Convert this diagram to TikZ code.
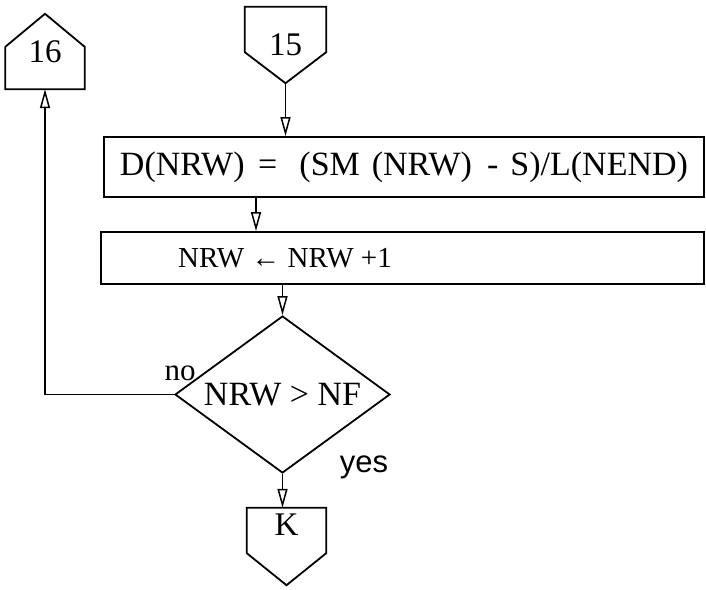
\documentclass[tikz,border=0pt]{standalone}
\usepackage{fontspec}
\setmainfont{Liberation Serif}
\newfontfamily\yesfont{Liberation Sans}
\usetikzlibrary{arrows.meta,calc,positioning,shapes.geometric}

\begin{document}
\begin{tikzpicture}[x=1pt,y=-1pt,>={Triangle[open,length=19pt,width=10pt,line width=1.5pt]},line join=miter]
\path[fill=white] (0,0) rectangle (706,589);
\tikzset{flow/.style={draw=black,line width=1.8pt},link/.style={draw=black,line width=1.5pt,->},big/.style={font=\fontsize{33}{33}\selectfont},conn/.style={big,minimum width=80pt,minimum height=76pt,inner sep=0pt},stmt/.style={flow,minimum width=600pt,inner sep=0pt}}
% connectors and statement boxes
\node[conn,minimum width=79pt,minimum height=75pt] (n16) at (45,51.5) {16};
\draw[flow] (n16.south west) -- ([yshift=-33pt]n16.north west) -- (n16.north) -- ([yshift=-33pt]n16.north east) -- (n16.south east) -- cycle;
\node[conn,minimum width=81pt] (n15) at (285.5,45) {15};
\draw[flow] (n15.north west) -- (n15.north east) -- ([yshift=31pt]n15.south east) -- (n15.south) -- ([yshift=31pt]n15.south west) -- cycle;
\node[stmt,minimum height=60pt,font=\fontsize{34}{34}\selectfont] (calc1) at (404,167) {D(NRW)\hspace{0.4em}=\hspace{0.65em}(SM\hspace{0.35em}(NRW)\hspace{0.45em}-\hspace{0.35em}S)/L(NEND)};
\node[flow,minimum width=603pt,minimum height=52pt,inner sep=0pt] (incr) at (402.5,258) {};
\node[font=\fontsize{29}{29}\selectfont] (incrtext) at (285,258) {NRW ← NRW +1};
\node[flow,diamond,aspect=1.37,minimum width=215pt,minimum height=157pt,inner sep=0pt,font=\fontsize{34}{34}\selectfont] (test) at (282.5,394.5) {NRW > NF\hspace{10pt}};
\node[conn,minimum width=79pt,minimum height=77pt,text height=27pt,text depth=50pt] (kend) at (286.5,546.5) {K};
\draw[flow] (kend.north west) -- (kend.north east) -- ([yshift=32pt]kend.south east) -- (kend.south) -- ([yshift=32pt]kend.south west) -- cycle;
\node[font=\fontsize{31}{31}\selectfont] (nolabel) at (180,373) {no};
\node[font=\yesfont\fontsize{31}{31}\selectfont] (yeslabel) at (364,467) {yes};
% flow lines
\draw[link] (n15.south) -- (n15.south |- calc1.north);
\draw[link] ([xshift=-148pt]calc1.south) -- ([xshift=-148pt]calc1.south |- incr.north);
\draw[link] (test.north |- incr.south) -- (test.north);
\draw[link] (test.south) -- (test.south |- kend.north);
\draw[link] (test.west) -| (n16.south);
\end{tikzpicture}
\end{document}
